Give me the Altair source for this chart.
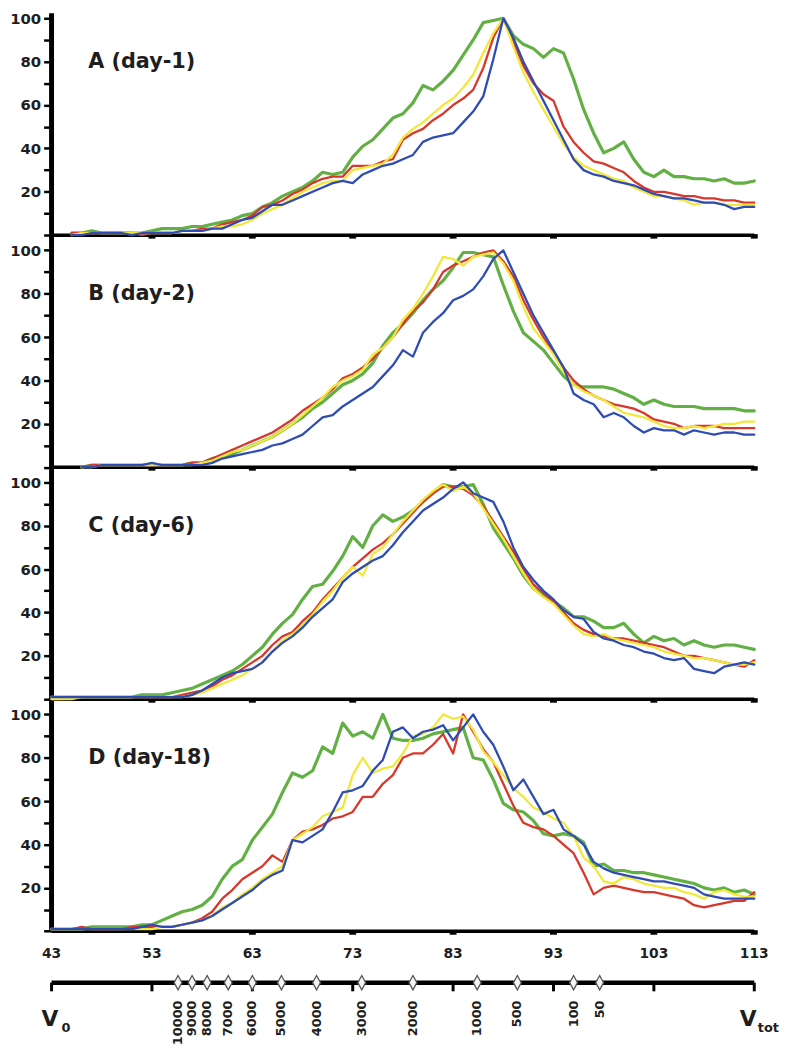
import altair as alt
import pandas as pd

# ---------------- data ----------------
x_vals = list(range(43, 114))
panel_names = ["A (day-1)", "B (day-2)", "C (day-6)", "D (day-18)"]
panel_offsets = [321, 214, 107, 0]
series_names = ["green", "red", "yellow", "blue"]
series_colors = ["#62b043", "#d8372c", "#f2e83a", "#2e4cb3"]
series_widths = [3.2, 2.3, 2.3, 2.3]

green_A = [None, None, 1, 1, 2, 1, 1, 1, 1, 1, 2, 3, 3, 3, 4, 4, 5, 6, 7, 9, 10, 13, 15, 18, 20, 22, 25, 29, 28, 29, 36, 41, 44, 49, 54, 56, 61, 69, 67, 71, 76, 83, 90, 98, 99, 100, 92, 88, 86, 82, 86, 84, 72, 58, 47, 38, 40, 43, 35, 29, 27, 30, 27, 27, 26, 26, 25, 26, 24, 24, 25]
red_A = [None, None, 1, 1, 1, 1, 1, 1, 1, 0, 1, 1, 1, 2, 2, 3, 3, 5, 6, 7, 9, 13, 14, 16, 19, 21, 24, 26, 27, 27, 32, 32, 32, 34, 35, 44, 47, 49, 53, 56, 60, 63, 67, 77, 91, 100, 89, 78, 70, 65, 62, 50, 43, 38, 34, 33, 31, 29, 25, 22, 20, 20, 19, 18, 18, 17, 17, 16, 16, 15, 15]
yellow_A = [None, None, 0, 1, 1, 1, 1, 1, 1, 1, 1, 1, 1, 2, 2, 2, 3, 4, 4, 5, 7, 10, 12, 14, 17, 20, 22, 24, 25, 25, 30, 31, 32, 33, 37, 45, 49, 52, 56, 60, 63, 68, 74, 84, 93, 100, 87, 75, 66, 58, 50, 42, 36, 32, 30, 28, 26, 25, 22, 20, 18, 18, 17, 16, 14, 15, 15, 14, 14, 14, 14]
blue_A = [None, None, 0, 0, 1, 1, 1, 1, 0, 1, 1, 1, 1, 2, 2, 2, 3, 3, 5, 7, 8, 11, 14, 14, 16, 18, 20, 22, 24, 25, 24, 28, 30, 32, 33, 35, 37, 43, 45, 46, 47, 52, 57, 64, 81, 100, 91, 80, 71, 62, 53, 44, 35, 30, 28, 27, 25, 24, 23, 21, 19, 18, 17, 17, 16, 15, 15, 14, 12, 13, 13]

green_B = [None, None, None, 0, 1, 1, 1, 1, 1, 1, 1, 1, 1, 1, 2, 2, 4, 5, 6, 8, 10, 12, 14, 17, 20, 23, 27, 30, 34, 38, 40, 43, 48, 56, 62, 66, 71, 77, 82, 86, 92, 99, 99, 98, 97, 84, 72, 62, 58, 54, 48, 42, 38, 37, 37, 37, 36, 34, 32, 29, 31, 29, 28, 28, 28, 27, 27, 27, 27, 26, 26]
red_B = [None, None, None, 0, 1, 1, 1, 1, 1, 1, 1, 1, 1, 1, 2, 2, 4, 6, 8, 10, 12, 14, 16, 19, 22, 26, 29, 32, 36, 41, 43, 46, 50, 55, 60, 66, 72, 76, 82, 90, 93, 95, 97, 99, 100, 95, 88, 77, 68, 60, 53, 46, 40, 36, 33, 31, 29, 28, 27, 25, 22, 21, 20, 18, 19, 19, 19, 18, 18, 18, 18]
yellow_B = [None, None, None, 0, 0, 1, 1, 1, 1, 1, 1, 1, 1, 1, 1, 2, 3, 5, 7, 8, 10, 12, 14, 17, 20, 24, 28, 32, 37, 40, 42, 45, 52, 55, 60, 68, 73, 80, 88, 97, 96, 93, 97, 98, 99, 94, 86, 74, 64, 58, 52, 44, 38, 35, 33, 31, 28, 25, 24, 23, 21, 19, 18, 18, 19, 18, 19, 20, 20, 21, 21]
blue_B = [None, None, None, 0, 0, 1, 1, 1, 1, 1, 2, 1, 1, 1, 1, 1, 2, 4, 5, 6, 7, 8, 10, 11, 13, 15, 19, 23, 24, 28, 31, 34, 37, 42, 47, 54, 51, 62, 67, 71, 77, 79, 82, 88, 96, 100, 90, 80, 70, 62, 54, 46, 34, 31, 29, 23, 25, 23, 19, 16, 18, 17, 17, 15, 17, 16, 15, 16, 16, 15, 15]

green_C = [1, 1, 1, 1, 1, 1, 1, 1, 1, 2, 2, 2, 3, 4, 5, 7, 9, 11, 13, 16, 20, 24, 30, 35, 39, 46, 52, 53, 59, 66, 75, 70, 80, 85, 82, 84, 87, 91, 95, 99, 98, 98, 99, 90, 79, 72, 65, 57, 51, 48, 45, 42, 38, 38, 36, 33, 33, 35, 30, 26, 29, 27, 28, 25, 27, 25, 24, 25, 25, 24, 23]
red_C = [0, 0, 1, 1, 1, 1, 1, 1, 1, 1, 1, 1, 1, 2, 3, 4, 6, 9, 11, 14, 17, 20, 25, 29, 31, 36, 40, 46, 51, 56, 61, 65, 69, 72, 76, 81, 86, 91, 95, 98, 98, 97, 94, 89, 82, 75, 68, 60, 53, 49, 45, 40, 35, 32, 30, 29, 28, 28, 27, 26, 25, 24, 22, 20, 20, 19, 18, 17, 16, 15, 18]
yellow_C = [0, 0, 0, 1, 1, 1, 1, 1, 1, 1, 1, 1, 1, 1, 2, 3, 5, 7, 9, 11, 14, 17, 22, 27, 30, 34, 39, 45, 50, 56, 61, 57, 67, 70, 76, 82, 87, 92, 96, 99, 96, 98, 95, 88, 81, 74, 66, 58, 51, 47, 44, 39, 34, 30, 29, 30, 28, 27, 26, 25, 24, 22, 21, 20, 19, 19, 18, 17, 16, 16, 17]
blue_C = [1, 1, 1, 1, 1, 1, 1, 1, 1, 1, 1, 1, 1, 1, 2, 4, 7, 10, 12, 13, 14, 17, 22, 26, 29, 33, 38, 42, 46, 54, 58, 61, 64, 66, 71, 77, 82, 87, 90, 93, 97, 100, 95, 93, 91, 82, 70, 61, 55, 50, 46, 41, 38, 37, 31, 28, 27, 25, 24, 22, 21, 19, 18, 19, 14, 13, 12, 15, 16, 17, 16]

green_D = [1, 1, 1, 1, 2, 2, 2, 2, 2, 3, 3, 5, 7, 9, 10, 12, 16, 24, 30, 33, 42, 48, 54, 64, 73, 71, 74, 85, 82, 96, 90, 92, 89, 100, 89, 88, 88, 89, 91, 92, 93, 94, 80, 79, 70, 59, 56, 55, 51, 45, 44, 45, 44, 41, 30, 31, 28, 28, 27, 27, 26, 25, 24, 23, 22, 20, 19, 20, 18, 19, 17]
red_D = [1, 1, 1, 2, 1, 1, 1, 1, 2, 2, 2, 2, 2, 3, 4, 6, 9, 15, 19, 24, 27, 30, 35, 32, 42, 46, 47, 49, 52, 53, 55, 62, 62, 68, 72, 80, 82, 82, 86, 91, 82, 100, 92, 84, 78, 68, 58, 50, 48, 47, 44, 40, 36, 27, 17, 20, 21, 20, 19, 18, 18, 17, 16, 15, 12, 11, 12, 13, 14, 14, 18]
yellow_D = [1, 1, 1, 1, 1, 1, 1, 1, 1, 1, 1, 2, 2, 3, 4, 5, 7, 11, 13, 17, 20, 24, 27, 30, 42, 45, 48, 53, 55, 57, 72, 80, 73, 75, 76, 82, 90, 91, 94, 100, 98, 99, 93, 83, 78, 72, 66, 62, 57, 55, 52, 50, 44, 34, 30, 23, 22, 25, 24, 22, 21, 20, 20, 18, 17, 15, 18, 19, 17, 16, 16]
blue_D = [1, 1, 1, 1, 1, 1, 1, 1, 1, 2, 3, 2, 2, 3, 4, 5, 7, 10, 13, 16, 19, 23, 26, 28, 42, 41, 44, 47, 55, 64, 65, 67, 74, 79, 92, 94, 89, 92, 93, 95, 88, 94, 100, 92, 86, 76, 65, 70, 62, 54, 56, 47, 44, 40, 32, 29, 27, 26, 25, 24, 23, 23, 22, 21, 20, 17, 16, 15, 15, 15, 15]

bottom_tick_labels = [43, 53, 63, 73, 83, 93, 103, 113]
mw_positions = [55.6, 57.0, 58.5, 60.6, 63.0, 65.9, 69.4, 73.9, 79.0, 85.4, 89.4, 95.0, 97.6]
mw_labels = ["10000", "9000", "8000", "7000", "6000", "5000", "4000", "3000", "2000", "1000", "500", "100", "50"]

all_series = {
    "A (day-1)": [green_A, red_A, yellow_A, blue_A],
    "B (day-2)": [green_B, red_B, yellow_B, blue_B],
    "C (day-6)": [green_C, red_C, yellow_C, blue_C],
    "D (day-18)": [green_D, red_D, yellow_D, blue_D],
}

# ---------------- layout constants (units of the y scale) ----------------
Y_MIN, Y_MAX = -50.0, 423.3
MW_Y = -23.7
LABEL_Y = -10.5

rows = []
for pname, off in zip(panel_names, panel_offsets):
    for sname, vals in zip(series_names, all_series[pname]):
        assert len(vals) == len(x_vals), (pname, sname, len(vals))
        for xv, yv in zip(x_vals, vals):
            if yv is None:
                continue
            rows.append({"panel": pname, "series": sname, "x": xv, "yp": yv + off})
df = pd.DataFrame(rows)

xs = alt.Scale(domain=[43, 113], nice=False, zero=False)
ys = alt.Scale(domain=[Y_MIN, Y_MAX], nice=False, zero=False)
FONT = "DejaVu Sans"
TXT = "#1e1e1e"

tick_values = [off + v for off in panel_offsets for v in range(0, 101, 10)]
label_expr = ("(datum.value % 107) % 20 == 0 && (datum.value % 107) > 0 "
              "? '' + (datum.value % 107) : ''")

# vertical axis line carrying the y axis
vaxis_df = pd.DataFrame({"x": [43], "y1": [0], "y2": [Y_MAX]})
vaxis = alt.Chart(vaxis_df).mark_rule(color="black", strokeWidth=5, strokeCap="butt").encode(
    x=alt.X("x:Q", scale=xs, axis=None),
    y=alt.Y("y1:Q", scale=ys, axis=alt.Axis(
        values=tick_values, labelExpr=label_expr, domain=False, grid=False,
        tickSize=8, tickWidth=2.5, tickColor="black", labelFont=FONT,
        labelFontWeight="bold", labelFontSize=15, labelColor=TXT,
        labelPadding=3, title=None, labelOverlap=False, labelBound=False)),
    y2="y2:Q",
)

# panel baselines
base_df = pd.DataFrame({"x": [43] * 4, "x2": [113] * 4, "y": panel_offsets})
baselines = alt.Chart(base_df).mark_rule(color="black", strokeWidth=3.5).encode(
    x=alt.X("x:Q", scale=xs, axis=None), x2="x2:Q",
    y=alt.Y("y:Q", scale=ys, axis=None),
)

sq_rows = [{"x": t, "y": off} for off in panel_offsets for t in bottom_tick_labels[1:]]
squares = alt.Chart(pd.DataFrame(sq_rows)).mark_point(
    shape="M-1,-0.3L1,-0.3L1,1L-1,1Z", size=49, filled=True, color="black",
    strokeWidth=0, opacity=1,
).encode(x=alt.X("x:Q", scale=xs, axis=None), y=alt.Y("y:Q", scale=ys, axis=None))

# series lines
line_layers = []
for sname, col, w in zip(series_names, series_colors, series_widths):
    line_layers.append(
        alt.Chart(df).transform_filter(alt.datum.series == sname).mark_line(
            color=col, strokeWidth=w, strokeJoin="round", strokeCap="round"
        ).encode(
            x=alt.X("x:Q", scale=xs, axis=None),
            y=alt.Y("yp:Q", scale=ys, axis=None),
            detail="panel:N",
            order="x:Q",
        )
    )

# panel titles
title_df = pd.DataFrame({"x": [46.65] * 4, "y": [o + 77.2 for o in panel_offsets], "t": panel_names})
titles = alt.Chart(title_df).mark_text(
    align="left", baseline="alphabetic", font=FONT, fontWeight="bold", fontSize=21, color=TXT
).encode(x=alt.X("x:Q", scale=xs, axis=None), y=alt.Y("y:Q", scale=ys, axis=None), text="t:N")

# bottom x tick labels
xl_df = pd.DataFrame({"x": bottom_tick_labels, "y": [LABEL_Y] * len(bottom_tick_labels),
                      "t": [str(v) for v in bottom_tick_labels]})
xlabels = alt.Chart(xl_df).mark_text(
    align="center", baseline="middle", font=FONT, fontWeight="bold", fontSize=14, color=TXT
).encode(x=alt.X("x:Q", scale=xs, axis=None), y=alt.Y("y:Q", scale=ys, axis=None), text="t:N")

# molecular weight axis
mw_line_df = pd.DataFrame({"x": [43], "x2": [113], "y": [MW_Y]})
mw_line = alt.Chart(mw_line_df).mark_rule(color="black", strokeWidth=4.5).encode(
    x=alt.X("x:Q", scale=xs, axis=None), x2="x2:Q", y=alt.Y("y:Q", scale=ys, axis=None))

mw_tick_df = pd.DataFrame({"x": bottom_tick_labels, "y": [MW_Y] * 8, "y2": [MW_Y - 4.0] * 8})
mw_ticks = alt.Chart(mw_tick_df).mark_rule(color="black", strokeWidth=3, strokeCap="butt").encode(
    x=alt.X("x:Q", scale=xs, axis=None), y=alt.Y("y:Q", scale=ys, axis=None), y2="y2:Q")

mw_df = pd.DataFrame({"x": mw_positions, "y": [MW_Y] * len(mw_positions), "t": mw_labels,
                      "ty": [MW_Y - 8.2] * len(mw_positions)})
diamonds = alt.Chart(mw_df).mark_point(
    shape="M0,-1L0.55,0L0,1L-0.55,0Z", size=210, filled=True, fill="#f4f4f4",
    stroke="#555555", strokeWidth=1.3, opacity=1,
).encode(x=alt.X("x:Q", scale=xs, axis=None), y=alt.Y("y:Q", scale=ys, axis=None))

mw_text = alt.Chart(mw_df).mark_text(
    angle=270, align="right", baseline="middle", font=FONT, fontWeight="bold",
    fontSize=13, color=TXT,
).encode(x=alt.X("x:Q", scale=xs, axis=None), y=alt.Y("ty:Q", scale=ys, axis=None), text="t:N")

# V0 / Vtot
v_df = pd.DataFrame({"x": [42.0, 111.55], "y": [-43.8, -43.8], "t": ["V", "V"]})
v_text = alt.Chart(v_df).mark_text(
    align="left", baseline="alphabetic", font=FONT, fontWeight="bold", fontSize=22, color=TXT
).encode(x=alt.X("x:Q", scale=xs, axis=None), y=alt.Y("y:Q", scale=ys, axis=None), text="t:N")
sub_df = pd.DataFrame({"x": [44.0, 113.35], "y": [-46.3, -46.3], "t": ["0", "tot"]})
sub_text = alt.Chart(sub_df).mark_text(
    align="left", baseline="alphabetic", font=FONT, fontWeight="bold", fontSize=13, color=TXT
).encode(x=alt.X("x:Q", scale=xs, axis=None), y=alt.Y("y:Q", scale=ys, axis=None), text="t:N")

chart = alt.layer(
    vaxis, baselines, squares, *line_layers, titles, xlabels,
    mw_line, mw_ticks, diamonds, mw_text, v_text, sub_text,
).resolve_axis(y="independent").properties(
    width=710, height=1037,
    autosize=alt.AutoSizeParams(type="none"),
    padding={"left": 44, "right": 26, "top": 0, "bottom": 0},
).configure_view(stroke=None)

chart.save("out.html", embed_options={"renderer": "svg", "actions": False})
